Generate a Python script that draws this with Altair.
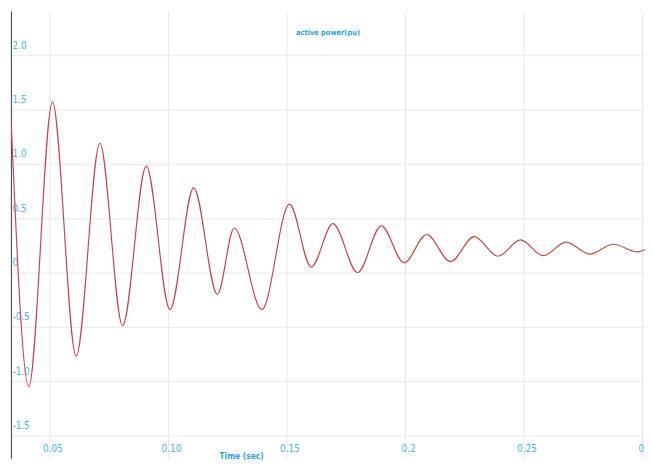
import altair as alt
import pandas as pd

# Extremum points of the active power trace
time_s = [0.03375, 0.04125, 0.05125, 0.06125, 0.07125, 0.08083, 0.09083, 0.10083,
          0.11083, 0.12083, 0.12792, 0.13958, 0.15125, 0.16042, 0.16958, 0.18,
          0.19, 0.19958, 0.20917, 0.21917, 0.22917, 0.23917, 0.24875, 0.25833,
          0.26792, 0.27792, 0.28792, 0.29792, 0.30125]
power_pu = [1.42, -1.05, 1.57, -0.77, 1.19, -0.49, 0.98, -0.34,
            0.78, -0.2, 0.41, -0.34, 0.63, 0.05, 0.45, 0.0,
            0.43, 0.09, 0.35, 0.10, 0.33, 0.15, 0.30, 0.155,
            0.28, 0.17, 0.26, 0.19, 0.21]

x_ticks = [0.05, 0.10, 0.15, 0.2, 0.25, 0.3]
x_tick_labels = ["0.05", "0.10", "0.15", "0.2", "0.25", "0.3"]
y_ticks = [2.0, 1.5, 1.0, 0.5, 0.0, -0.5, -1.0, -1.5]
y_tick_labels = ["2.0", "1.5", "1.0", "0.5", "0", "-0.5", "-1.0", "-1.5"]

df = pd.DataFrame({"t": time_s, "p": power_pu})

def label_expr(vals, labels):
    parts = []
    for v, l in zip(vals, labels):
        parts.append(f"abs(datum.value - ({v})) < 1e-6 ? '{l}'")
    return " : ".join(parts) + " : ''"

label_color = "#4db3dc"
font = "DejaVu Sans Condensed, Open Sans, sans-serif"

chart = alt.Chart(df).mark_line(
    color="#c04a4a", strokeWidth=1.2, interpolate="monotone", clip=True
).encode(
    x=alt.X("t:Q",
            scale=alt.Scale(domain=[0.03375, 0.30125], nice=False, zero=False),
            axis=alt.Axis(values=x_ticks, labelExpr=label_expr(x_ticks, x_tick_labels),
                          title="Time (sec)", titleFont=font, titleFontSize=8.5,
                          titleColor="#2f9fd0", titleFontWeight="bold",
                          titleX=233, titleY=-3, titleBaseline="middle", titleAlign="center",
                          titleAnchor="start",
                          labelFont=font, labelFontSize=10, labelColor=label_color,
                          labelBaseline="middle", labelPadding=-10, labelOffset=3,
                          ticks=False, tickSize=0, domain=False,
                          grid=True, gridColor="#e8e8e8", gridWidth=1,
                          labelFlush=False, labelOverlap=False)),
    y=alt.Y("p:Q",
            scale=alt.Scale(domain=[-1.709, 2.409], nice=False, zero=False),
            axis=alt.Axis(values=y_ticks, labelExpr=label_expr(y_ticks, y_tick_labels),
                          title=None,
                          labelFont=font, labelFontSize=10, labelColor=label_color,
                          labelAlign="left", labelBaseline="middle", labelOffset=-10,
                          labelPadding=-1, ticks=False, tickSize=0,
                          domain=True, domainColor="#555555", domainWidth=1.2,
                          grid=True, gridColor="#e8e8e8", gridWidth=1,
                          labelFlush=False, labelOverlap=False)),
).properties(
    width=642, height=453,
    title=alt.TitleParams("active power(pu)", font=font, fontSize=7.5, fontWeight="bold",
                          color="#2f9fd0", anchor="middle", offset=-26),
    autosize=alt.AutoSizeParams(type="none"),
    padding={"left": 3, "top": 0, "right": 0, "bottom": 0},
).configure_view(stroke=None)

chart.save("out.html", embed_options={"renderer": "svg", "actions": False})
